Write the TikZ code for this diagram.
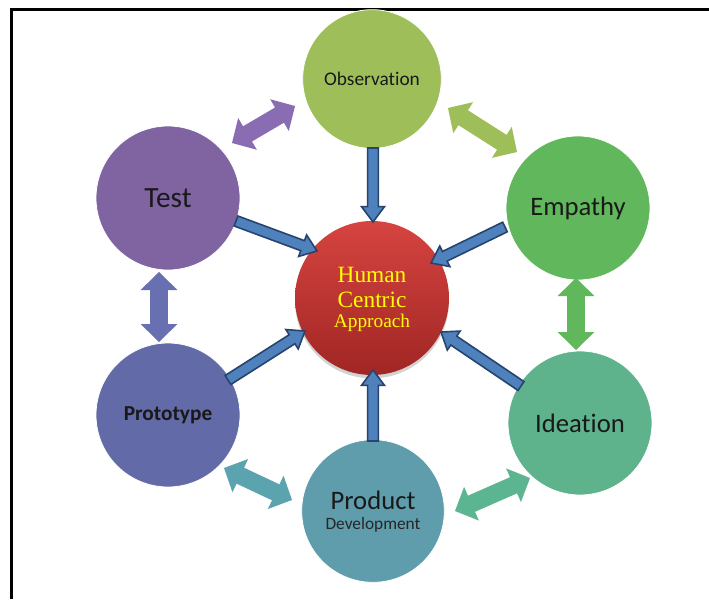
\documentclass[tikz,border=0pt]{standalone}
\usepackage{fontspec}
\setmainfont{Carlito}[Ligatures=NoCommon]
\newfontfamily\hubfont{Liberation Serif}
\usetikzlibrary{calc,shadows}
\definecolor{cobs}{RGB}{157,190,89}
\definecolor{cemp}{RGB}{96,183,92}
\definecolor{cide}{RGB}{94,178,140}
\definecolor{cprod}{RGB}{95,157,172}
\definecolor{cproto}{RGB}{98,106,167}
\definecolor{ctest}{RGB}{128,100,162}
\definecolor{ahead}{RGB}{138,108,178}
\definecolor{aproto}{RGB}{104,112,178}
\definecolor{aprod}{RGB}{92,163,176}
\definecolor{aide}{RGB}{92,181,145}
\definecolor{bfill}{RGB}{79,129,189}
\definecolor{bline}{RGB}{38,68,110}
\definecolor{htop}{RGB}{214,68,64}
\definecolor{hbot}{RGB}{160,38,36}
\definecolor{hubtext}{RGB}{255,255,0}
\tikzset{
  bubble/.style={circle, inner sep=0pt, minimum size=108pt, draw=white, line width=0.6pt, text=black!90, align=center},
  bluearrow/.style={fill=bfill, draw=bline, line width=1.2pt, line join=miter},
  twoway/.style={draw=none}
}
\newcommand{\blockarr}[2]{%
  \coordinate (bac) at ($(#2)!11.5pt!(#1)$);
  \filldraw[bluearrow] ($(#1)!4pt!90:(#2)$) -- ($(bac)!4pt!90:(#2)$) -- ($(bac)!8.6pt!90:(#2)$) -- (#2)
    -- ($(bac)!8.6pt!-90:(#2)$) -- ($(bac)!4pt!-90:(#2)$) -- ($(#1)!4pt!-90:(#2)$) -- cycle;}
\newcommand{\dblarr}[3]{%
  \coordinate (dac) at ($(#1)!13.5pt!(#2)$);
  \coordinate (dad) at ($(#2)!13.5pt!(#1)$);
  \fill[#3] (#1) -- ($(dac)!13.8pt!90:(#2)$) -- ($(dac)!6.6pt!90:(#2)$) -- ($(dad)!6.6pt!-90:(#1)$)
    -- ($(dad)!13.8pt!-90:(#1)$) -- (#2) -- ($(dad)!13.8pt!90:(#1)$) -- ($(dad)!6.6pt!90:(#1)$)
    -- ($(dac)!6.6pt!-90:(#2)$) -- ($(dac)!13.8pt!-90:(#2)$) -- cycle;}
\begin{document}
\begin{tikzpicture}[x=0.75pt,y=-0.75pt]
\useasboundingbox (0,0) rectangle (709,599);
\fill[white] (0,0) rectangle (709,599);
% frame
\draw[black, line width=1.6pt] (11.5,599) -- (11.5,9.5) -- (709,9.5);
% circles
\node[bubble, fill=cobs, minimum size=104pt] (obs) at (372,79) {\fontsize{14.5pt}{17pt}\selectfont Observation};
\node[bubble, fill=cemp] (emp) at (578,208) {\fontsize{20pt}{24pt}\selectfont Empathy};
\node[bubble, fill=cide] (ide) at (580,423) {\fontsize{20pt}{24pt}\selectfont Ideation};
\node[bubble, fill=cprod, minimum size=107pt] (prod) at (373,511) {};
\node[text=black!90] (prodt) at (373,500) {\fontsize{20pt}{24pt}\selectfont Product};
\node[text=black!85] (devt) at (373,525) {\fontsize{13pt}{15pt}\selectfont Development};
\node[bubble, fill=cproto] (proto) at (168,415) {\fontsize{16pt}{19pt}\selectfont\bfseries Prototype};
\node[bubble, fill=ctest] (test) at (168,198) {\fontsize{22pt}{26pt}\selectfont Test};
\node[circle, inner sep=0pt, minimum size=115.5pt, top color=htop, bottom color=hbot,
      drop shadow={shadow xshift=0pt, shadow yshift=-2.5pt, opacity=0.35}] (hub) at (372,298) {};
\node[text=hubtext, font=\hubfont] (h1) at (372,275) {\fontsize{17.5pt}{20pt}\selectfont Human};
\node[text=hubtext, font=\hubfont] (h2) at (372,299.5) {\fontsize{17.5pt}{20pt}\selectfont Centric};
\node[text=hubtext, font=\hubfont] (h3) at (372,323) {\fontsize{14.5pt}{17pt}\selectfont Approach};
% arrow end points
\coordinate (e1) at (505,227);  \coordinate (e2) at (431,263);
\coordinate (t1) at (236,221);  \coordinate (t2) at (317,251);
\coordinate (p1) at (228,380);  \coordinate (p2) at (305,331);
\coordinate (i1) at (521,386);  \coordinate (i2) at (441,332);
\coordinate (o1) at (373,148);  \coordinate (o2) at (373,222);
\coordinate (d1) at (373,441);  \coordinate (d2) at (373,370);
% blue arrows into the hub
\blockarr{o1}{o2}
\blockarr{e1}{e2}
\blockarr{t1}{t2}
\blockarr{p1}{p2}
\blockarr{d1}{d2}
\blockarr{i1}{i2}
% two-way arrows
\coordinate (a1) at (232,143); \coordinate (a2) at (295,106);
\coordinate (b1) at (448,108); \coordinate (b2) at (517,152);
\coordinate (c1) at (576,278); \coordinate (c2) at (576,350);
\coordinate (f1) at (159,272); \coordinate (f2) at (159,342);
\coordinate (g1) at (224,468); \coordinate (g2) at (292,500);
\coordinate (k1) at (455,511); \coordinate (k2) at (530,478);
\dblarr{a1}{a2}{ahead}
\dblarr{b1}{b2}{cobs}
\dblarr{c1}{c2}{cemp}
\dblarr{f1}{f2}{aproto}
\dblarr{g1}{g2}{aprod}
\dblarr{k1}{k2}{aide}
\end{tikzpicture}
\end{document}
